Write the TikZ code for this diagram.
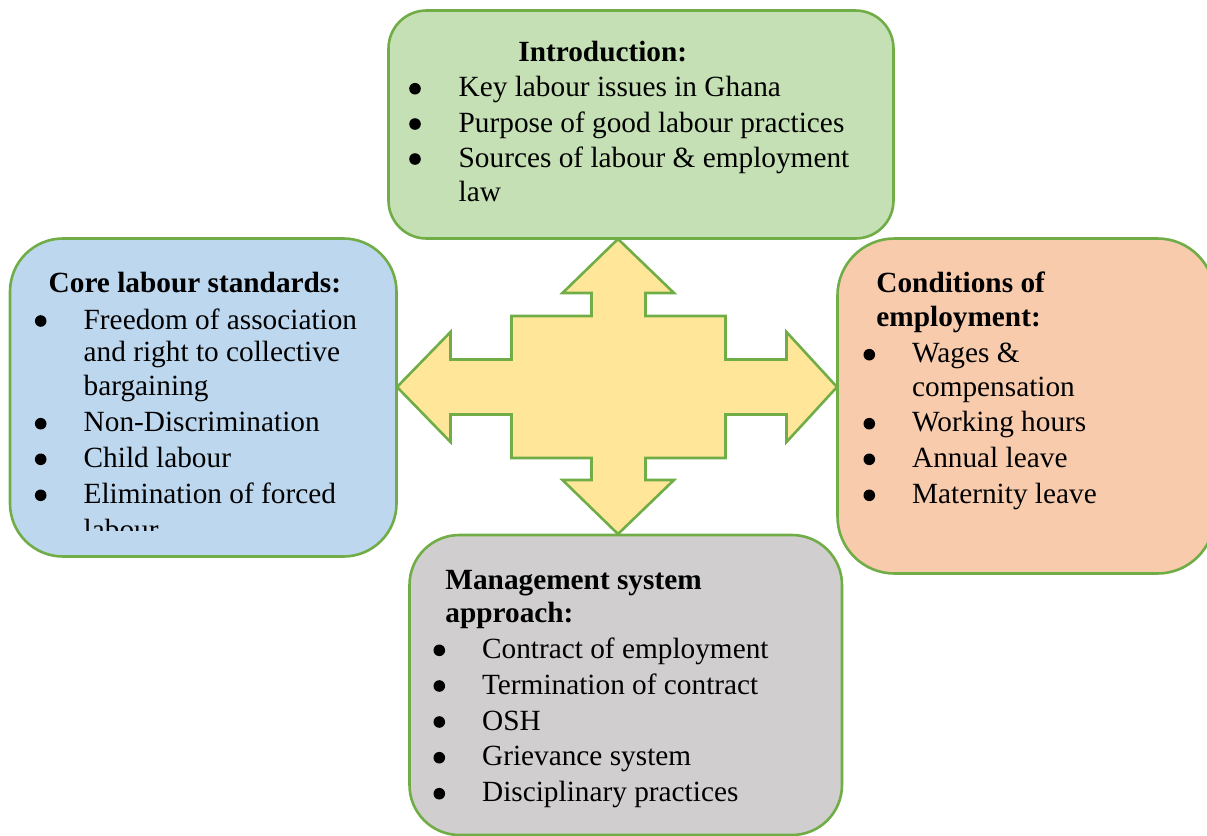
\documentclass[tikz,border=0pt]{standalone}
\usepackage{fontspec}
\setmainfont{Liberation Serif}
\definecolor{edge}{HTML}{70AD47}
\definecolor{introfill}{HTML}{C5E0B4}
\definecolor{corefill}{HTML}{BDD7EE}
\definecolor{condfill}{HTML}{F8CBAD}
\definecolor{mgmtfill}{HTML}{D0CECE}
\definecolor{hubfill}{HTML}{FFE699}
\begin{document}
\begin{tikzpicture}[x=0.5pt,y=-0.5pt,
  panel/.style={draw=edge, line width=1.3pt, rectangle, inner sep=0pt},
  txt/.style={anchor=base west, inner sep=0pt, font=\fontsize{14.65pt}{17pt}\selectfont},
  head/.style={anchor=base west, inner sep=0pt, font=\fontsize{14.65pt}{17pt}\selectfont\bfseries},
  dot/.style={fill=black}]
\useasboundingbox (0,0) rectangle (1207,836);
\clip (0,0) rectangle (1207,836);

% four topic panels
\node[panel, fill=introfill, rounded corners=19pt, minimum width=252.5pt, minimum height=114pt] (intro) at (641,124.5) {};
\node[panel, fill=corefill, rounded corners=26.5pt, minimum width=193.25pt, minimum height=159pt] (core) at (203.25,397.5) {};
\node[panel, fill=condfill, rounded corners=28.5pt, minimum width=188.5pt, minimum height=167.5pt] (cond) at (1026,406) {};
\node[panel, fill=mgmtfill, rounded corners=25pt, minimum width=216.25pt, minimum height=150pt] (mgmt) at (625.75,685) {};

% central four-way arrow
\draw[edge, line width=1.3pt, fill=hubfill, line join=miter]
  (618,239) -- (674,293) -- (645.5,293) -- (645.5,316) -- (725.5,316) -- (725.5,359.5)
  -- (786.5,359.5) -- (786.5,332) -- (837,387) -- (786.5,442) -- (786.5,414.5)
  -- (725.5,414.5) -- (725.5,458) -- (645.5,458) -- (645.5,480) -- (674,480)
  -- (618,534) -- (562.5,480) -- (591.5,480) -- (591.5,458) -- (511.5,458)
  -- (511.5,414.5) -- (450.5,414.5) -- (450.5,442) -- (397,387) -- (450.5,332)
  -- (450.5,359.5) -- (511.5,359.5) -- (511.5,316) -- (591.5,316) -- (591.5,293)
  -- (562.5,293) -- cycle;

% Introduction
\node[head] (introH) at (518,61.7) {Introduction:};
\fill[dot] (415,88.7) circle[radius=2.9pt];
\node[txt] (introA) at (458.3,96.7) {Key labour issues in Ghana};
\fill[dot] (415,124) circle[radius=2.9pt];
\node[txt] (introB) at (458.3,132) {Purpose of good labour practices};
\fill[dot] (415,159) circle[radius=2.9pt];
\node[txt] (introC) at (458.3,167) {Sources of labour \& employment};
\node[txt] (introC2) at (458.3,201.7) {law};

% Core labour standards
\node[head] (coreH) at (48.3,292.7) {Core labour standards:};
\fill[dot] (40.7,321) circle[radius=2.9pt];
\node[txt] (coreA) at (83.3,329) {Freedom of association};
\node[txt] (coreA2) at (83.3,361.7) {and right to collective};
\node[txt] (coreA3) at (83.3,395.7) {bargaining};
\fill[dot] (40.7,423.7) circle[radius=2.9pt];
\node[txt] (coreB) at (83.3,431.7) {Non-Discrimination};
\fill[dot] (40.7,459.3) circle[radius=2.9pt];
\node[txt] (coreC) at (83.3,467.3) {Child labour};
\fill[dot] (40.7,495.3) circle[radius=2.9pt];
\node[txt] (coreD) at (83.3,503.3) {Elimination of forced};
\begin{scope}
  \clip (0,505) rectangle (400,530);
  \node[txt] (coreD2) at (83.3,539.3) {labour};
\end{scope}

% Conditions of employment
\node[head] (condH) at (876,292.7) {Conditions of};
\node[head] (condH2) at (876,326.7) {employment:};
\fill[dot] (869.3,354.7) circle[radius=2.9pt];
\node[txt] (condA) at (911.7,362.7) {Wages \&};
\node[txt] (condA2) at (911.7,396) {compensation};
\fill[dot] (869.3,423.7) circle[radius=2.9pt];
\node[txt] (condB) at (911.7,431.7) {Working hours};
\fill[dot] (869.3,459.3) circle[radius=2.9pt];
\node[txt] (condC) at (911.7,467.3) {Annual leave};
\fill[dot] (869.3,495.3) circle[radius=2.9pt];
\node[txt] (condD) at (911.7,503.3) {Maternity leave};

% Management system approach
\node[head] (mgmtH) at (445,589) {Management system};
\node[head] (mgmtH2) at (445,622.3) {approach:};
\fill[dot] (439.3,650.3) circle[radius=2.9pt];
\node[txt] (mgmtA) at (481.7,658.3) {Contract of employment};
\fill[dot] (439.3,686) circle[radius=2.9pt];
\node[txt] (mgmtB) at (481.7,694) {Termination of contract};
\fill[dot] (439.3,722) circle[radius=2.9pt];
\node[txt] (mgmtC) at (481.7,730) {OSH};
\fill[dot] (439.3,757.7) circle[radius=2.9pt];
\node[txt] (mgmtD) at (481.7,765.7) {Grievance system};
\fill[dot] (439.3,793.7) circle[radius=2.9pt];
\node[txt] (mgmtE) at (481.7,801.7) {Disciplinary practices};
\end{tikzpicture}
\end{document}
